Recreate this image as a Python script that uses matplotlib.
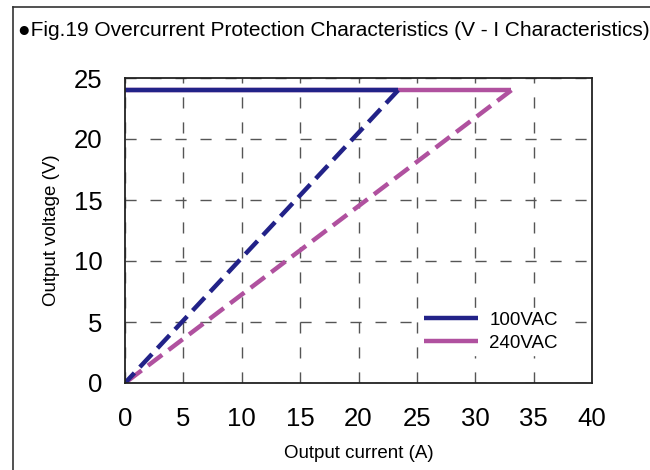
import matplotlib
matplotlib.use("Agg")
import matplotlib.pyplot as plt
from matplotlib.lines import Line2D

# values
v_out = 24.0
i_knee_100 = 23.4
i_knee_240 = 33.1
labels = ["100VAC", "240VAC"]
colors = ["#222288", "#b0519f"]

plt.rcParams['font.family'] = ['Liberation Sans', 'DejaVu Sans']

fig = plt.figure(figsize=(6.5, 4.7), dpi=100)
ax = fig.add_axes([125 / 650, 1 - 383 / 470, 467 / 650, 305 / 470])

# 240VAC first so 100VAC solid segment sits on top
ax.plot([0, i_knee_240], [v_out, v_out], color=colors[1], lw=3.2, solid_capstyle='butt', label=labels[1])
ax.plot([i_knee_240, 0], [v_out, 0], color=colors[1], lw=3.2, ls=(0, (4, 1.8)))
ax.plot([0, i_knee_100], [v_out, v_out], color=colors[0], lw=3.2, solid_capstyle='butt', label=labels[0])
ax.plot([i_knee_100, 0], [v_out, 0], color=colors[0], lw=3.2, ls=(0, (4, 1.8)))

ax.set_xlim(0, 40)
ax.set_ylim(0, 25)
ax.set_xticks(range(0, 41, 5))
ax.set_yticks(range(0, 26, 5))
ax.grid(True, color='#555555', ls=(0, (8, 10)), lw=1)
ax.tick_params(axis='x', length=0, labelsize=18.5, pad=17)
ax.tick_params(axis='y', length=0, labelsize=18.5, pad=16)
for s in ax.spines.values():
    s.set_linewidth(1.3)
    s.set_color('#222222')

ax.set_xlabel("Output current (A)", fontsize=13.5, labelpad=10)
ax.set_ylabel("Output voltage (V)", fontsize=13.5, labelpad=10)

h, l = ax.get_legend_handles_labels()
leg = ax.legend(h[::-1], l[::-1], loc='lower right', bbox_to_anchor=(0.955, 0.06),
                frameon=True, fontsize=13.5, handlelength=2.9, handletextpad=0.6,
                labelspacing=0.3, borderpad=0.2, framealpha=1, edgecolor='white',
                fancybox=False)

fig.text(18 / 650, 1 - 31 / 470, "\u25cfFig.19 Overcurrent Protection Characteristics (V - I Characteristics)",
         fontsize=15, va='center', ha='left')

# outer frame (left and top edges)
fig.add_artist(Line2D([13 / 650, 13 / 650], [0, 1 - 7 / 470], color='#333333', lw=1.2))
fig.add_artist(Line2D([13 / 650, 1], [1 - 7 / 470, 1 - 7 / 470], color='#333333', lw=1.2))

fig.savefig("out.png", dpi=100)
